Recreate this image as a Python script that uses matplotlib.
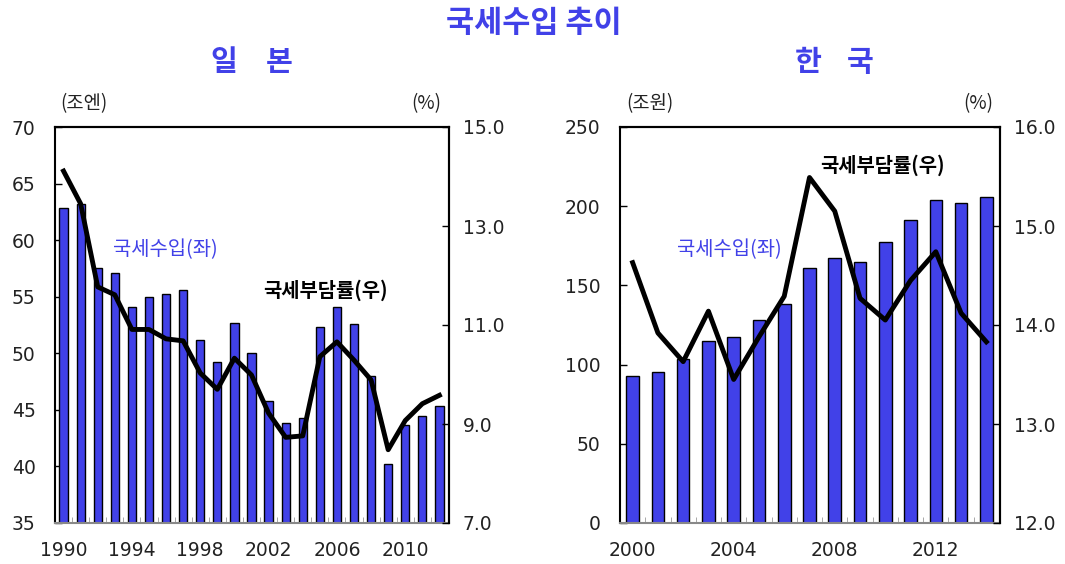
import matplotlib
matplotlib.use("Agg")
import matplotlib.pyplot as plt
import numpy as np

plt.rcParams["font.family"] = ["Noto Sans CJK KR", "DejaVu Sans"]

BLUE = "#4141E8"
NUM_FONT = "DejaVu Sans"

jp_years = list(range(1990, 2013))
jp_revenue = [62.8, 63.2, 57.5, 57.1, 54.1, 55.0, 55.2, 55.6, 51.2, 49.2, 52.7, 50.0,
              45.8, 43.8, 44.3, 52.3, 54.1, 52.6, 48.0, 40.2, 43.7, 44.5, 45.3]
jp_burden = [14.11, 13.45, 11.77, 11.61, 10.91, 10.91, 10.72, 10.68, 10.03, 9.70, 10.33, 9.99,
             9.22, 8.73, 8.76, 10.36, 10.66, 10.29, 9.89, 8.48, 9.07, 9.41, 9.58]
jp_xticks = [1990, 1994, 1998, 2002, 2006, 2010]

kr_years = list(range(2000, 2015))
kr_revenue = [92.9, 95.2, 103.4, 114.9, 117.2, 128.2, 138.2, 161.3, 167.4, 164.9,
              177.7, 191.6, 203.6, 202.3, 205.9]
kr_burden = [14.63, 13.92, 13.63, 14.14, 13.45, 13.88, 14.29, 15.49, 15.15, 14.27,
             14.05, 14.45, 14.74, 14.12, 13.83]
kr_xticks = [2000, 2004, 2008, 2012]


def panel(rect, years, revenue, burden, xticks, xlim, bar_w, ylim, yticks, y2lim, y2ticks):
    ax = fig.add_axes(rect)
    ax.bar(years, revenue, width=bar_w, color=BLUE, edgecolor="black", linewidth=1.0, zorder=2)
    ax.set_xlim(*xlim)
    ax.set_ylim(*ylim)
    ax.set_yticks(yticks)
    ax.set_yticklabels([str(v) for v in yticks], family=NUM_FONT)
    ax.set_xticks(xticks)
    ax.set_xticklabels([str(v) for v in xticks], family=NUM_FONT)
    ax.set_xticks(np.arange(years[0] - 0.5, years[-1] + 1, 1), minor=True)
    ax.tick_params(axis="x", which="major", length=0, pad=13, labelsize=13.5, labelcolor="#222222")
    ax.tick_params(axis="x", which="minor", direction="in", length=4, color="#999999")
    ax.tick_params(axis="y", direction="in", length=5, width=1, pad=14, labelsize=13.5,
                   labelcolor="#222222")
    for s in ["left", "right", "top"]:
        ax.spines[s].set_linewidth(1.5)
    ax.spines["bottom"].set_color("#888888")
    ax.spines["bottom"].set_linewidth(1.5)

    ax2 = ax.twinx()
    ax2.plot(years, burden, color="black", linewidth=3.5, zorder=3)
    ax2.set_ylim(*y2lim)
    ax2.set_yticks(y2ticks)
    ax2.set_yticklabels([f"{v:.1f}" for v in y2ticks], family=NUM_FONT)
    ax2.tick_params(axis="y", direction="in", length=5, width=1, pad=10, labelsize=13.5,
                    labelcolor="#222222")
    ax2.spines["right"].set_linewidth(1.5)
    ax2.spines["top"].set_linewidth(1.5)
    ax2.spines["left"].set_visible(False)
    ax2.spines["bottom"].set_visible(False)
    return ax, ax2


fig = plt.figure(figsize=(10.65, 5.64), dpi=100)
W, H = 1065, 564

def fx(px):
    return px / W

def fy(py):
    return 1 - py / H

panel([fx(55), fy(523), fx(394), (523 - 127) / H], jp_years, jp_revenue, jp_burden,
      jp_xticks, (1989.61, 2012.56), 0.48, (35, 70), list(range(35, 71, 5)),
      (7, 15), [7.0, 9.0, 11.0, 13.0, 15.0])
panel([fx(620), fy(523), fx(380), (523 - 127) / H], kr_years, kr_revenue, kr_burden,
      kr_xticks, (1999.51, 2014.54), 0.5, (0, 250), list(range(0, 251, 50)),
      (12, 16), [12.0, 13.0, 14.0, 15.0, 16.0])

fig.text(fx(534), fy(23), "국세수입 추이", color=BLUE, fontsize=22, fontweight="bold",
         ha="center", va="center")
for ch, x in [("일", 224), ("본", 279), ("한", 808), ("국", 860)]:
    fig.text(fx(x), fy(62), ch, color=BLUE, fontsize=21, fontweight="bold",
             ha="center", va="center")

fig.text(fx(84), fy(104), "(조엔)", fontsize=13.5, ha="center", va="center", color="#222222")
fig.text(fx(426), fy(104), "(%)", fontsize=13.5, ha="center", va="center", color="#222222")
fig.text(fx(650), fy(104), "(조원)", fontsize=13.5, ha="center", va="center", color="#222222")
fig.text(fx(978), fy(104), "(%)", fontsize=13.5, ha="center", va="center", color="#222222")

fig.text(fx(165), fy(250), "국세수입(좌)", color=BLUE, fontsize=14.3, fontweight="medium",
         ha="center", va="center")
fig.text(fx(325), fy(290), "국세부담률(우)", color="black", fontsize=14.3, fontweight="bold",
         ha="center", va="center")
fig.text(fx(729), fy(250), "국세수입(좌)", color=BLUE, fontsize=14.3, fontweight="medium",
         ha="center", va="center")
fig.text(fx(882), fy(165), "국세부담률(우)", color="black", fontsize=14.3, fontweight="bold",
         ha="center", va="center")

fig.savefig("out.png", dpi=100)
